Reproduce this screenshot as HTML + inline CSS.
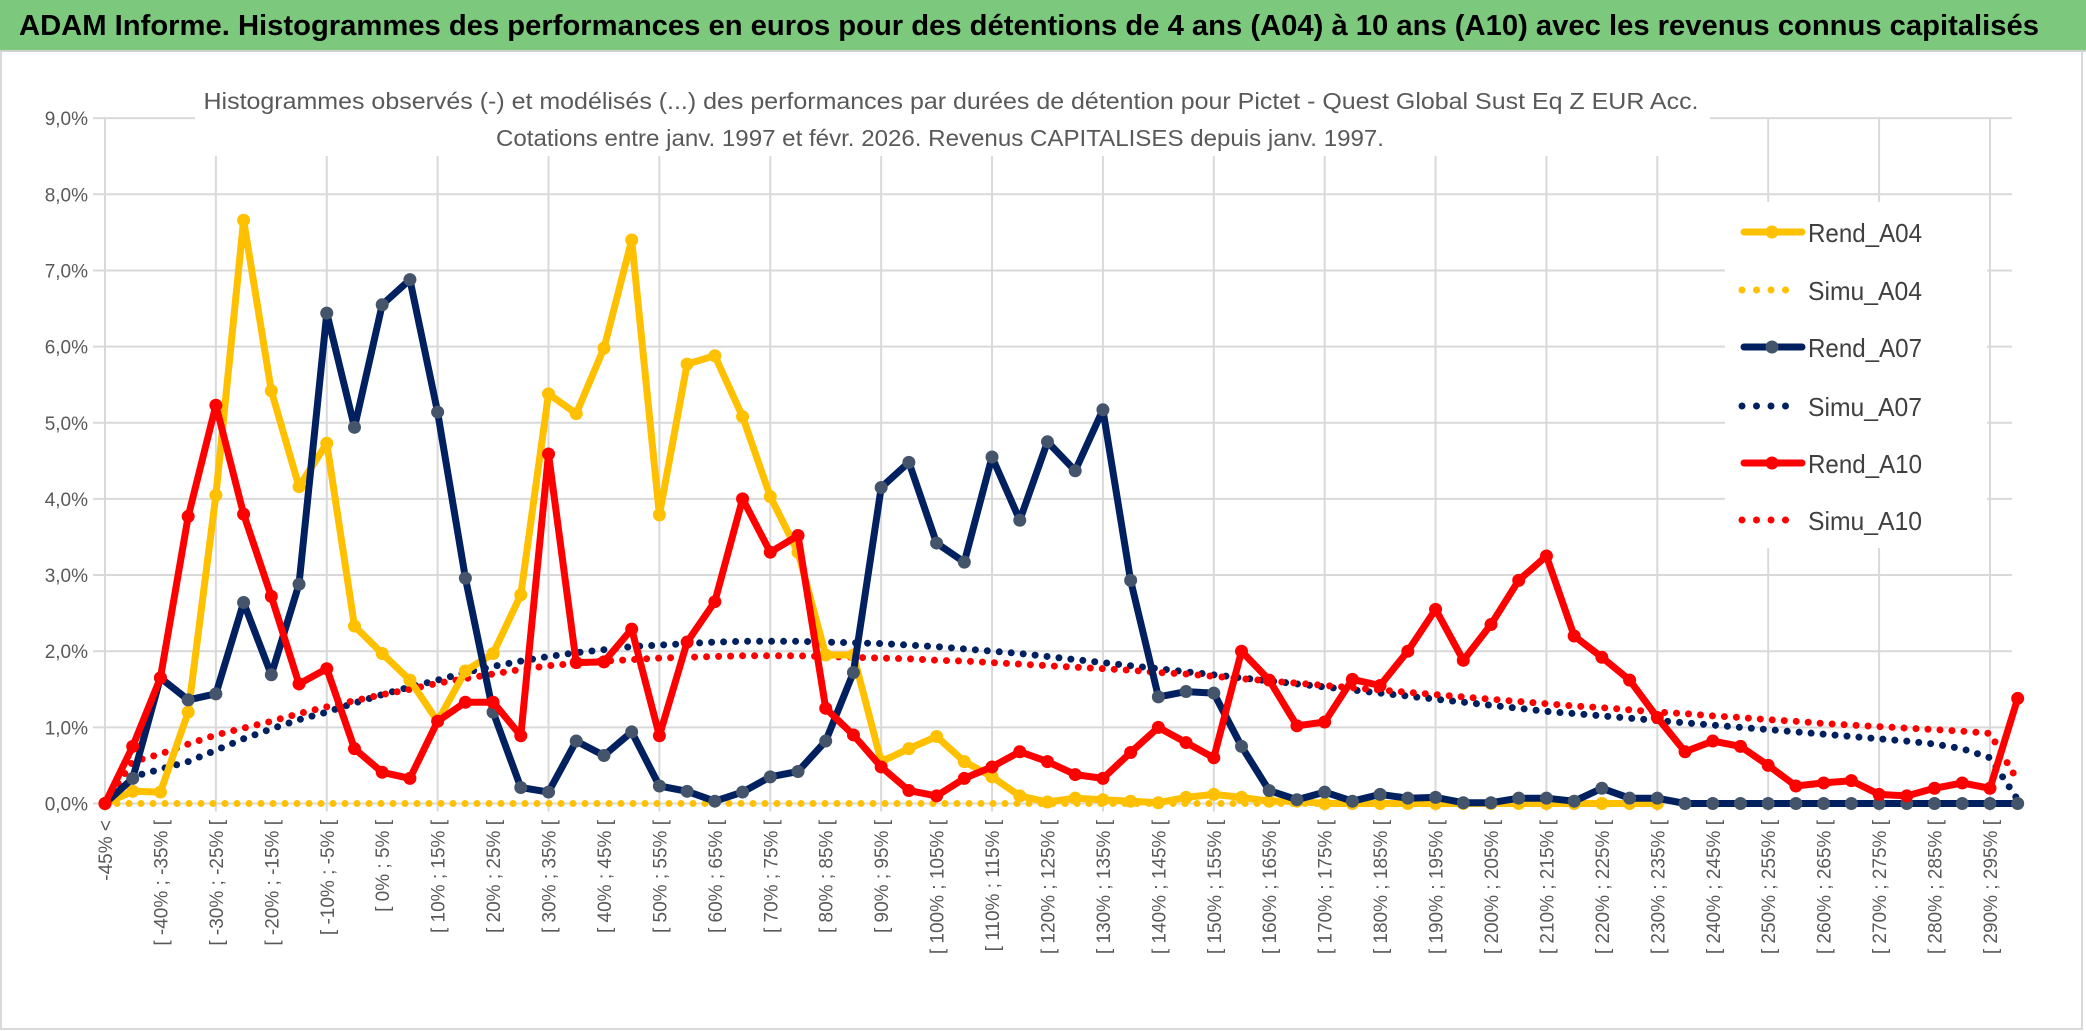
<!DOCTYPE html>
<html><head><meta charset="utf-8">
<style>
html,body{margin:0;padding:0;background:#fff;}
svg{display:block;}
text{font-family:"Liberation Sans",sans-serif;}
</style></head>
<body>
<svg id="chart" width="2086" height="1031" viewBox="0 0 2086 1031" xmlns="http://www.w3.org/2000/svg">
  <rect x="1" y="50" width="2081" height="979" fill="#fff" stroke="#d9d9d9" stroke-width="2"/>
  <rect x="0" y="0" width="2086" height="50" fill="#7cc97e"/>
  <line x1="0" y1="51" x2="2086" y2="51" stroke="#d0d0d0" stroke-width="2"/>
  <text x="1029" y="35" text-anchor="middle" font-size="29" font-weight="bold" fill="#000" textLength="2020" lengthAdjust="spacingAndGlyphs">ADAM Informe. Histogrammes des performances en euros pour des détentions de 4 ans (A04) à 10 ans (A10) avec les revenus connus capitalisés</text>
  <g id="grid"></g>
  <rect x="195" y="78" width="1515" height="78" fill="#fff"/>
  <text x="951" y="109" text-anchor="middle" font-size="23" fill="#595959" textLength="1495" lengthAdjust="spacingAndGlyphs">Histogrammes observés (-) et modélisés (...) des performances  par durées de détention pour Pictet - Quest Global Sust Eq Z EUR Acc.</text>
  <text x="940" y="146" text-anchor="middle" font-size="23" fill="#595959" textLength="888" lengthAdjust="spacingAndGlyphs">Cotations entre janv. 1997 et févr. 2026. Revenus CAPITALISES depuis janv. 1997.</text>
  <g id="yaxis"></g>
  <g id="xaxis"></g>
  <g id="series"></g>
  <g id="legend"></g>
</svg>
<script>
var categories = [];
categories.push("-45% <");
for (var k = 1; k < 70; k++) { categories.push("[ " + (-50 + 5 * k) + "% ; " + (-45 + 5 * k) + "% ["); }
var yTicks = [0,1,2,3,4,5,6,7,8,9];
var yTickLabels = ["0,0%","1,0%","2,0%","3,0%","4,0%","5,0%","6,0%","7,0%","8,0%","9,0%"];
var rendA04 = [0,0.16,0.15,1.2,4.05,7.66,5.42,4.16,4.73,2.33,1.97,1.62,1.08,1.74,1.97,2.74,5.38,5.12,5.98,7.4,3.79,5.77,5.88,5.08,4.03,3.3,1.95,1.95,0.55,0.72,0.88,0.55,0.35,0.1,0.02,0.07,0.05,0.03,0.01,0.08,0.12,0.08,0.03,0.03,0,0,0,0,0,0,0,0,0,0,0,0,0];
var simuA04 = [0,0,0,0,0,0,0,0,0,0,0,0,0,0,0,0,0,0,0,0,0,0,0,0,0,0,0,0,0,0,0,0,0,0,0,0,0,0,0,0,0,0,0,0,0,0,0,0,0,0,0,0,0,0,0,0,0];
var rendA07 = [0,0.33,1.65,1.36,1.44,2.64,1.69,2.88,6.44,4.94,6.55,6.88,5.14,2.96,1.2,0.21,0.15,0.82,0.63,0.94,0.23,0.16,0.03,0.15,0.35,0.42,0.82,1.72,4.15,4.48,3.42,3.17,4.55,3.72,4.75,4.37,5.17,2.93,1.4,1.47,1.45,0.75,0.17,0.05,0.15,0.03,0.12,0.07,0.08,0.01,0.01,0.07,0.07,0.03,0.2,0.07,0.07,0,0,0,0,0,0,0,0,0,0,0,0,0];
var simuA07 = [0,0.35,0.45,0.55,0.7,0.85,0.98,1.1,1.2,1.32,1.43,1.53,1.62,1.72,1.8,1.87,1.93,1.98,2.02,2.06,2.08,2.1,2.12,2.13,2.13,2.13,2.12,2.11,2.1,2.08,2.06,2.03,2.0,1.97,1.93,1.89,1.85,1.81,1.77,1.73,1.69,1.65,1.61,1.57,1.53,1.49,1.45,1.41,1.37,1.33,1.29,1.25,1.21,1.18,1.15,1.12,1.09,1.06,1.03,1.0,0.97,0.94,0.91,0.88,0.85,0.82,0.78,0.72,0.6,0.05];
var rendA10 = [0,0.75,1.65,3.77,5.23,3.8,2.72,1.57,1.77,0.72,0.41,0.33,1.08,1.33,1.33,0.89,4.59,1.85,1.86,2.29,0.89,2.12,2.65,4.0,3.3,3.52,1.25,0.9,0.48,0.17,0.1,0.33,0.48,0.68,0.55,0.38,0.33,0.67,1.0,0.8,0.6,2.0,1.62,1.02,1.07,1.63,1.55,2.0,2.55,1.88,2.35,2.93,3.25,2.2,1.92,1.62,1.13,0.68,0.82,0.75,0.5,0.23,0.27,0.3,0.12,0.1,0.2,0.27,0.2,1.38];
var simuA10 = [0,0.55,0.65,0.78,0.9,0.99,1.08,1.18,1.27,1.35,1.43,1.5,1.58,1.64,1.7,1.76,1.81,1.84,1.87,1.89,1.91,1.92,1.93,1.94,1.94,1.94,1.93,1.92,1.91,1.9,1.88,1.87,1.85,1.83,1.81,1.79,1.77,1.75,1.72,1.7,1.67,1.64,1.61,1.58,1.55,1.52,1.49,1.46,1.43,1.4,1.37,1.34,1.31,1.28,1.26,1.23,1.2,1.18,1.15,1.13,1.1,1.08,1.05,1.03,1.01,0.99,0.97,0.95,0.92,0.3];

var NS = "http://www.w3.org/2000/svg";
var X0 = 105, DX = 27.72, Y0 = 803.5, DY = 76.15;
function xs(i){ return X0 + i * DX; }
function ys(v){ return Y0 - v * DY; }
function mk(tag, attrs, parent){
  var e = document.createElementNS(NS, tag);
  for (var a in attrs) e.setAttribute(a, attrs[a]);
  parent.appendChild(e);
  return e;
}
var grid = document.getElementById("grid");
for (var t = 0; t < yTicks.length; t++) {
  var gl = mk("line", {x1: 93, x2: 2012, y1: ys(yTicks[t]), y2: ys(yTicks[t]), stroke: "#d9d9d9", "stroke-width": 2}, grid);
  
  
}
for (var i = 0; i < categories.length; i += 4) {
  var vl = mk("line", {x1: xs(i), x2: xs(i), y1: ys(9), y2: Y0 + 8, stroke: "#d9d9d9", "stroke-width": 2}, grid);
  
  
}
var yaxis = document.getElementById("yaxis");
for (var t = 0; t < yTicks.length; t++) {
  var yl = mk("text", {x: 88, y: ys(yTicks[t]) + 7, "text-anchor": "end", "font-size": 19, fill: "#595959"}, yaxis);
  yl.textContent = yTickLabels[t];
  
  
}
var xaxis = document.getElementById("xaxis");
for (var i = 0; i < categories.length; i += 2) {
  var cx = xs(i) + 7, cy = 820;
  var xl = mk("text", {x: cx, y: cy, "text-anchor": "end", "font-size": 19, fill: "#595959", transform: "rotate(-90 " + cx + " " + cy + ")"}, xaxis);
  xl.textContent = categories[i];
  
  
}
var series = document.getElementById("series");
function pathOf(arr){
  var d = "";
  for (var i = 0; i < arr.length; i++) { d += (i ? "L" : "M") + xs(i).toFixed(1) + " " + ys(arr[i]).toFixed(1); }
  return d;
}
function dotted(arr, color, name){
  var p = mk("path", {d: pathOf(arr), fill: "none", stroke: color, "stroke-width": 7, "stroke-linecap": "round", "stroke-dasharray": "0 12"}, series);
  
  
}
function solid(arr, color, mcolor, name){
  var p = mk("path", {d: pathOf(arr), fill: "none", stroke: color, "stroke-width": 7, "stroke-linejoin": "round"}, series);
  
  
  for (var i = 0; i < arr.length; i++) {
    var c = mk("circle", {cx: xs(i), cy: ys(arr[i]), r: 6.5, fill: mcolor}, series);
    
    
  }
}
dotted(simuA04, "#ffc000", "simu-a04-line");
dotted(simuA07, "#002060", "simu-a07-line");
dotted(simuA10, "#ff0000", "simu-a10-line");
solid(rendA04, "#ffc000", "#ffc000", "rend-a04-line");
solid(rendA07, "#002060", "#44546a", "rend-a07-line");
solid(rendA10, "#ff0000", "#ff0000", "rend-a10-line");

var legend = document.getElementById("legend");
var lb = mk("rect", {x: 1725, y: 202, width: 262, height: 346, fill: "#fff"}, legend);


var legNames = ["Rend_A04","Simu_A04","Rend_A07","Simu_A07","Rend_A10","Simu_A10"];
var legColors = ["#ffc000","#ffc000","#002060","#002060","#ff0000","#ff0000"];
var legMarker = ["#ffc000","","#44546a","","#ff0000",""];
var legY = [232,290,347,406,463,520];
for (var j = 0; j < legNames.length; j++) {
  var g = mk("g", {}, legend);
  
  
  if (j % 2 === 0) {
    mk("line", {x1: 1744, x2: 1802, y1: legY[j], y2: legY[j], stroke: legColors[j], "stroke-width": 7, "stroke-linecap": "round"}, g);
    mk("circle", {cx: 1772, cy: legY[j], r: 6.5, fill: legMarker[j]}, g);
  } else {
    mk("line", {x1: 1742, x2: 1800, y1: legY[j], y2: legY[j], stroke: legColors[j], "stroke-width": 7, "stroke-linecap": "round", "stroke-dasharray": "0 14.5"}, g);
  }
  var lt = mk("text", {x: 1808, y: legY[j] + 10, "font-size": 26, fill: "#404040", textLength: 114, lengthAdjust: "spacingAndGlyphs"}, g);
  lt.textContent = legNames[j];
}
</script>
</body></html>
